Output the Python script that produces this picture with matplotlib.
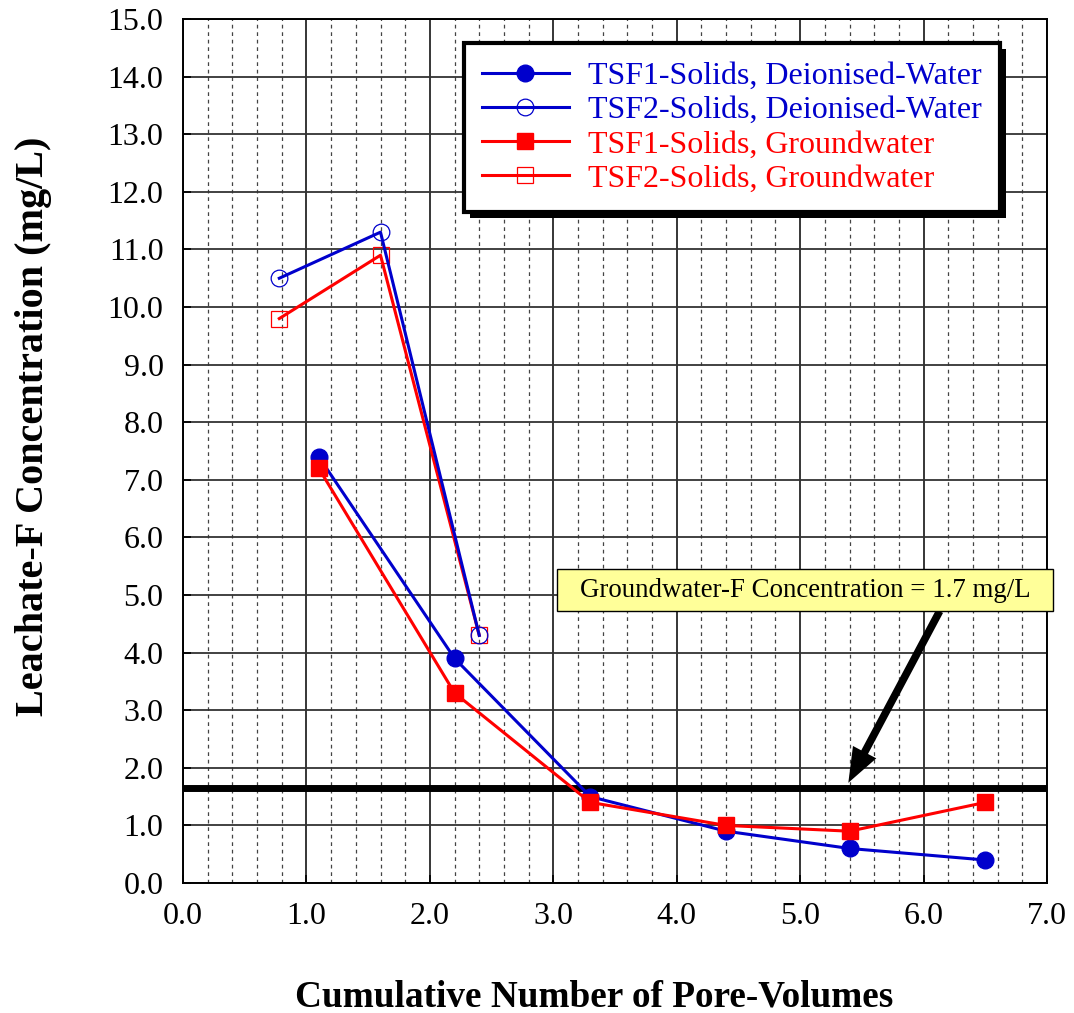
import matplotlib
matplotlib.use("Agg")
import matplotlib.pyplot as plt
from matplotlib.ticker import MultipleLocator, FormatStrFormatter
from matplotlib.patches import Rectangle, FancyArrowPatch
from matplotlib.transforms import IdentityTransform

plt.rcParams['font.family'] = ['Liberation Serif', 'DejaVu Serif']

# Data
x_tsf1 = [1.1, 2.2, 3.3, 4.4, 5.4, 6.5]
y_tsf1_di = [7.4, 3.9, 1.5, 0.9, 0.6, 0.4]
y_tsf1_gw = [7.2, 3.3, 1.4, 1.0, 0.9, 1.4]
x_tsf2 = [0.78, 1.6, 2.4]
y_tsf2_di = [10.5, 11.3, 4.3]
y_tsf2_gw = [9.8, 10.9, 4.3]
gw_level = 1.65
labels = ["TSF1-Solids, Deionised-Water", "TSF2-Solids, Deionised-Water",
          "TSF1-Solids, Groundwater", "TSF2-Solids, Groundwater"]
note = "Groundwater-F Concentration = 1.7 mg/L"

blue = '#0000CC'
red = '#FF0000'

fig = plt.figure(figsize=(10.74, 10.13), dpi=100)
ax = fig.add_axes([0.1704, 0.1283, 0.8045, 0.8529])

ax.set_xlim(0, 7)
ax.set_ylim(0, 15)
ax.xaxis.set_major_locator(MultipleLocator(1.0))
ax.xaxis.set_minor_locator(MultipleLocator(0.2))
ax.yaxis.set_major_locator(MultipleLocator(1.0))
ax.xaxis.set_major_formatter(FormatStrFormatter('%.1f'))
ax.yaxis.set_major_formatter(FormatStrFormatter('%.1f'))

ax.grid(which='major', axis='x', color='black', lw=1.1, ls='-', zorder=0)
ax.grid(which='major', axis='y', color='#333333', lw=1.3, ls='-', zorder=0)
ax.grid(which='minor', axis='x', color='#444444', lw=0.9, ls=(0, (3, 3)), zorder=0)
ax.set_axisbelow(True)
ax.tick_params(which='major', direction='in', length=6, width=1.2,
               labelsize=23, pad=14)
ax.tick_params(which='minor', length=0)
for s in ax.spines.values():
    s.set_linewidth(1.4)

ax.axhline(gw_level, color='black', lw=5, zorder=2)

ax.plot(x_tsf1, y_tsf1_di, color=blue, lw=2.2, marker='o', ms=12,
        mfc=blue, mec=blue, label=labels[0], zorder=4)
ax.plot(x_tsf2, y_tsf2_di, color=blue, lw=2.2, marker='o', ms=12,
        mfc='none', mec=blue, mew=0.9, label=labels[1], zorder=4)
ax.plot(x_tsf1, y_tsf1_gw, color=red, lw=2.2, marker='s', ms=11,
        mfc=red, mec=red, label=labels[2], zorder=5)
ax.plot(x_tsf2, y_tsf2_gw, color=red, lw=2.2, marker='s', ms=11,
        mfc='none', mec=red, mew=0.9, label=labels[3], zorder=3)

ax.set_xlabel("Cumulative Number of Pore-Volumes", fontsize=26.8,
              fontweight='bold')
ax.xaxis.set_label_coords(0.476, -0.112)
ax.set_ylabel("Leachate-F Concentration (mg/L)", fontsize=29,
              fontweight='bold')
ax.yaxis.set_label_coords(-0.152, 0.529)

arrow = FancyArrowPatch((6.13, 4.72), (5.39, 1.74),
                        arrowstyle='simple,head_length=25,head_width=19,tail_width=5.5',
                        mutation_scale=1, color='black', lw=0, zorder=6,
                        shrinkA=0, shrinkB=0)
ax.add_patch(arrow)

box = Rectangle((3.031, 4.722), 4.019, 0.729, fc='#FFFF99', ec='black',
                lw=1, zorder=7, clip_on=False)
ax.add_patch(box)
ax.text(5.04, 5.086, note, fontsize=19.4, ha='center', va='center',
        zorder=8, clip_on=False)

leg = ax.legend(loc='upper right', bbox_to_anchor=(0.9456, 0.972),
                fontsize=23, labelcolor='linecolor', fancybox=False,
                edgecolor='black', framealpha=1, handlelength=2.7,
                handletextpad=0.6, labelspacing=0.15, borderpad=0.58,
                borderaxespad=0)
leg.get_frame().set_linewidth(3)
leg.set_zorder(10)

fig.canvas.draw()
bb = leg.get_frame().get_window_extent(fig.canvas.get_renderer())
shadow = Rectangle((bb.x0 + 6, bb.y0 - 6), bb.width, bb.height,
                   transform=IdentityTransform(), fc='black', ec='none',
                   zorder=9.5, clip_on=False)
ax.add_artist(shadow)

fig.savefig("out.png", dpi=100)
